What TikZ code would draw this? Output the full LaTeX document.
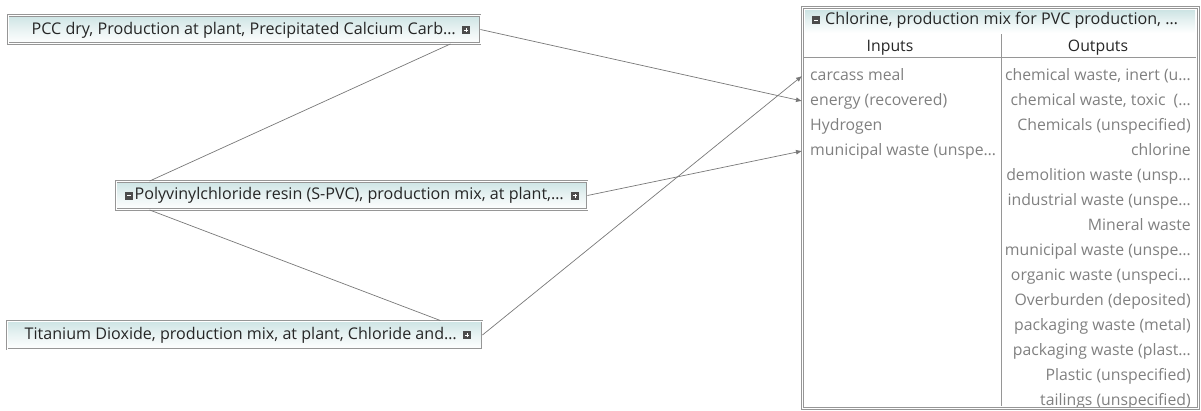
\documentclass[tikz,border=0pt]{standalone}
\usepackage{fontspec}
\setmainfont{Open Sans}
\usepackage{xcolor}
\usepackage{tikz}
\usetikzlibrary{arrows.meta, positioning}

\definecolor{boxline}{RGB}{150,150,150}
\definecolor{boxtop}{RGB}{205,228,228}
\definecolor{rowtext}{RGB}{128,128,128}
\definecolor{wire}{RGB}{120,120,120}
\newcommand{\elide}{…}

\begin{document}
\begin{tikzpicture}[
		    x=1pt, y=-1pt,
		    every node/.style={font=\fontsize{15.8}{18}\selectfont, text height=11.5pt, text depth=3.5pt},
		    procbox/.style={draw=boxline, line width=0.9pt, double=white, double distance=1pt,
		        top color=boxtop, bottom color=white, middle color=boxtop!45,
		        minimum height=28pt, inner sep=0pt},
		    boxtext/.style={inner sep=0pt, text=black!85, anchor=east, font=\fontsize{16.1}{18}\selectfont},
		    rowtext/.style={inner sep=0pt, text=rowtext},
		    flowline/.style={draw=wire, line width=0.7pt},
		    flowarrow/.style={flowline, -{Latex[length=6pt, width=5pt]}}
		]
		\tikzset{
		    btn/.style={fill=black!70, draw=black!70, minimum size=7pt, inner sep=0pt, text height=, text depth=},
		    plusbtn/.style={btn, path picture={
		        \draw[white, line width=1pt]
		          ([xshift=-2pt]path picture bounding box.center) -- ([xshift=2pt]path picture bounding box.center)
		          ([yshift=-2pt]path picture bounding box.center) -- ([yshift=2pt]path picture bounding box.center);}},
		    minusbtn/.style={btn, path picture={
		        \draw[white, line width=1pt]
		          ([xshift=-2pt]path picture bounding box.center) -- ([xshift=2pt]path picture bounding box.center);}}
		}
		\useasboundingbox (0,0) rectangle (1201,410);

		% process boxes on the left
		\node[procbox, minimum width=472pt] (pcc) at (244,29.5) {};
		\node[plusbtn] (pcc-btn) at (466,30) {};
		\node[boxtext] (pcc-txt) at (456,30) {PCC dry, Production at plant, Precipitated Calcium Carb\elide};

		\node[procbox, minimum width=471pt] (pvc) at (351.5,195.5) {};
		\node[minusbtn] (pvc-min) at (129,195.5) {};
		\node[plusbtn] (pvc-btn) at (575,195.5) {};
		\node[boxtext] (pvc-txt) at (564,195.5) {Polyvinylchloride resin (S-PVC), production mix, at plant,\elide};

		\node[procbox, minimum width=475pt] (tio) at (244.5,335) {};
		\node[plusbtn] (tio-btn) at (467,335) {};
		\node[boxtext] (tio-txt) at (457,335) {Titanium Dioxide, production mix, at plant, Chloride and\elide};

		% chlorine process with inputs and outputs
		\node[draw=boxline, line width=0.9pt, double=white, double distance=1pt, minimum width=396pt,
		      minimum height=401pt, inner sep=0pt, anchor=north west] (chl) at (802,7) {};
		\shade[top color=boxtop, bottom color=white, middle color=boxtop!45]
		    (805,10) rectangle (1195,33);
		\node[minusbtn] (chl-min) at (816,20) {};
		\node[boxtext, anchor=west] (chl-txt) at (825,20) {Chlorine, production mix for PVC production, \elide};
		\node[inner sep=0pt, text=black!85] (hd-in) at (890,47) {Inputs};
		\node[inner sep=0pt, text=black!85] (hd-out) at (1098,47) {Outputs};
		\draw[boxline, line width=0.9pt] (804,57) -- (1196,57);
		\draw[boxline, line width=0.9pt] (1001,34) -- (1001,406);

		\foreach \name [count=\i] in {carcass meal, energy (recovered), Hydrogen, municipal waste (unspe\elide}
		    \node[rowtext, anchor=west] (inp-\i) at (810,51+25*\i) {\name};

		\begin{scope}
		  \clip (804,34) rectangle (1196,406);
		  \foreach \name [count=\i] in {{chemical waste, inert (u\elide}, {chemical waste, toxic\ \ (\elide},
		      Chemicals (unspecified), chlorine, demolition waste (unsp\elide, industrial waste (unspe\elide,
		      Mineral waste, municipal waste (unspe\elide, organic waste (unspeci\elide, Overburden (deposited),
		      packaging waste (metal), packaging waste (plast\elide, Plastic (unspecified), tailings (unspecified)}
		      \node[rowtext, anchor=east] (out-\i) at (1191,51+25*\i) {\name};
		\end{scope}

		% connectors
		\draw[flowarrow] (pcc.east) -- (inp-2.west -| chl.west);
		\draw[flowline] ([xshift=-30pt]pcc.south east) -- ([xshift=34pt]pvc.north west);
		\draw[flowline] ([xshift=34pt]pvc.south west) -- ([xshift=-42pt]tio.north east);
		\draw[flowarrow] (tio.east) -- (inp-1.west -| chl.west);
		\draw[flowarrow] (pvc.east) -- (inp-4.west -| chl.west);
\end{tikzpicture}
\end{document}
